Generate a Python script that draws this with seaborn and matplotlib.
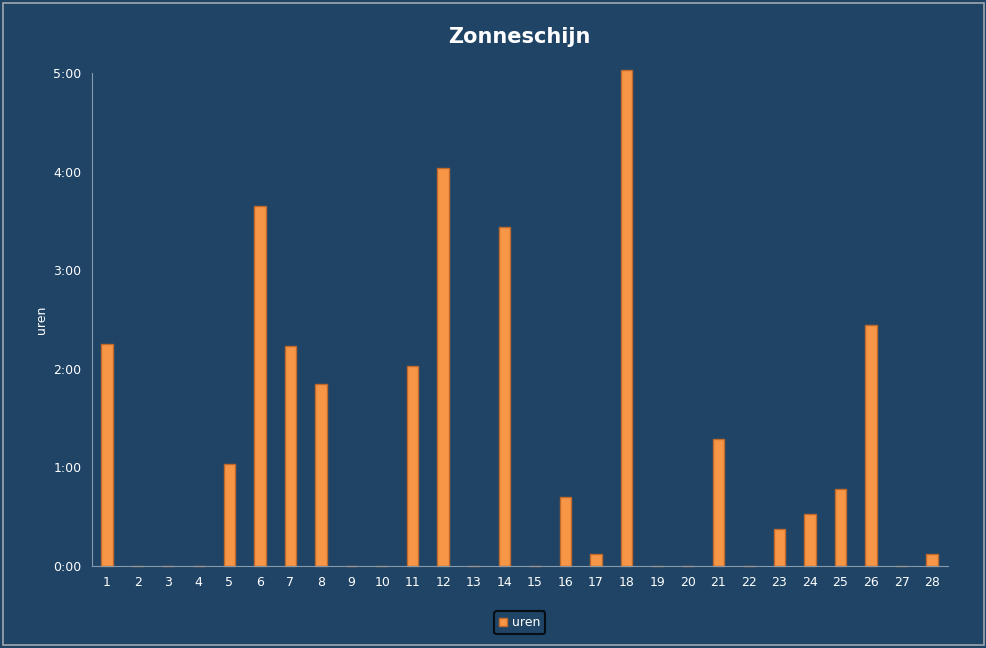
import matplotlib
matplotlib.use("Agg")
import matplotlib.pyplot as plt
import seaborn as sns
import pandas as pd
from matplotlib.ticker import FuncFormatter
from matplotlib.patches import Rectangle

# dagen en zonneschijn (uren)
dagen = list(range(1, 29))
uren = [2.25, 0, 0, 0, 1.03, 3.65, 2.23, 1.84, 0, 0, 2.03, 4.04, 0, 3.44, 0,
        0.70, 0.12, 5.03, 0, 0, 1.29, 0, 0.37, 0.53, 0.78, 2.44, 0, 0.12]

df = pd.DataFrame({"dag": dagen, "uren": uren})

achtergrond = "#1F4466"
sns.set_style("dark")
plt.rcParams["font.family"] = ["DejaVu Sans"]

fig, ax = plt.subplots(figsize=(9.87, 6.48), dpi=100)
fig.patch.set_facecolor(achtergrond)
ax.set_facecolor(achtergrond)

sns.barplot(data=df, x="dag", y="uren", color="#F79646", width=0.38,
            edgecolor="#C0692A", linewidth=1, saturation=1, ax=ax, label="uren")
for p in ax.patches:
    p.set_clip_on(False)

ax.set_ylim(0, 5)
ax.set_yticks([0, 1, 2, 3, 4, 5])
ax.yaxis.set_major_formatter(FuncFormatter(lambda v, p: f"{int(v)}:00"))
ax.tick_params(colors="white", labelsize=9, length=4)
ax.tick_params(axis="x", color="#8899AA")
ax.tick_params(axis="y", color="#8899AA")
for s in ["top", "right"]:
    ax.spines[s].set_visible(False)
for s in ["left", "bottom"]:
    ax.spines[s].set_color("#8899AA")
ax.grid(False)
ax.set_xlabel("")
ax.set_ylabel("uren", color="white", fontsize=9)
ax.set_title("Zonneschijn", color="white", fontsize=15, fontweight="bold", pad=22)

leg = ax.legend(loc="upper center", bbox_to_anchor=(0.5, -0.08), frameon=True,
                fontsize=9, handlelength=0.6, handletextpad=0.4)
leg.get_frame().set_facecolor(achtergrond)
leg.get_frame().set_edgecolor("black")
leg.get_frame().set_linewidth(1.5)
for t in leg.get_texts():
    t.set_color("white")

fig.patches.append(Rectangle((0.003, 0.004), 0.994, 0.992, transform=fig.transFigure,
                             fill=False, edgecolor="#A0A8B0", linewidth=1.2))

fig.subplots_adjust(left=0.093, right=0.96, top=0.887, bottom=0.127)
fig.savefig("out.png", dpi=100, facecolor=achtergrond)
